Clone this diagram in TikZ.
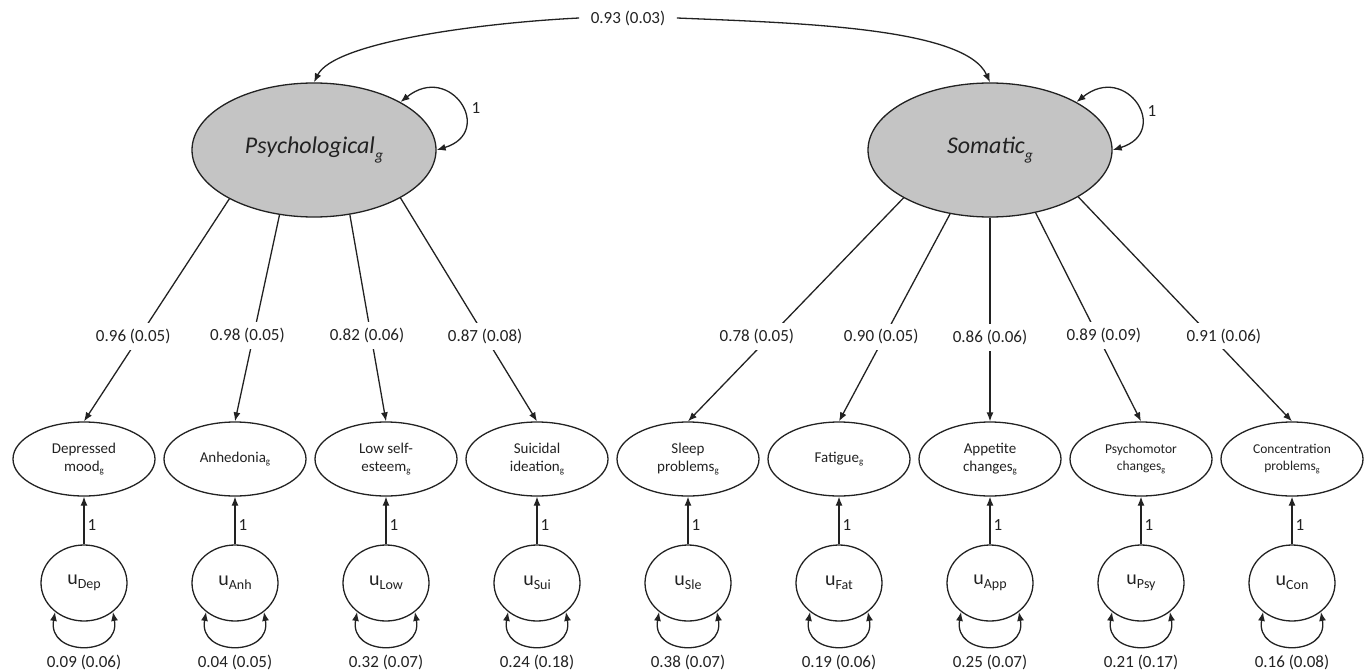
\documentclass[tikz,border=0pt]{standalone}
\usepackage{fontspec}
\setmainfont{Carlito}
\usepackage{graphicx}
\usetikzlibrary{shapes.geometric,arrows.meta}
\definecolor{latfill}{RGB}{196,196,196}
\definecolor{ink}{RGB}{34,34,34}
\newcommand{\sbs}[1]{\raisebox{-0.35ex}{\scalebox{0.6}{#1}}}
\newcommand{\lsbs}[1]{\raisebox{-0.55ex}{\scalebox{0.65}{#1}}}
\newcommand{\uvar}[1]{u\raisebox{-0.4ex}{\scalebox{0.7}{#1}}}

\begin{document}
\begin{tikzpicture}[x=1pt,y=-1pt,>={Latex[length=9pt,width=7pt]},line width=1.3pt,color=ink]
    \tikzstyle{latent}=[draw,ellipse,fill=latfill,minimum width=244pt,minimum height=134pt,inner sep=0pt,font=\fontsize{24}{28}\selectfont\itshape]
    \tikzstyle{ind}=[draw,ellipse,minimum width=142pt,minimum height=74pt,inner sep=0pt,align=center,font=\fontsize{15}{18}\selectfont]
    \tikzstyle{err}=[draw,ellipse,minimum width=86pt,minimum height=76pt,inner sep=0pt,font=\fontsize{20}{22}\selectfont]
    \tikzstyle{lbl}=[fill=white,inner sep=6pt,font=\fontsize{17}{20}\selectfont]
    \tikzstyle{num}=[inner sep=3pt,font=\fontsize{17}{20}\selectfont]
    \useasboundingbox (0,0) rectangle (1367,671);

    % latent factors
    \node[latent] at (314,150) (psy) {Psychological\lsbs{g}};
    \node[latent] at (990,150) (som) {Somatic\lsbs{g}};
    \node[num,inner xsep=11pt] at (628,18) (cov) {0.93 (0.03)};
    \node[num] at (476,108) (vpsy) {1};
    \node[num] at (1152,111) (vsom) {1};

    % indicators
    \node[ind] at (84,459)   (dep) {Depressed\\mood\sbs{g}};
    \node[ind] at (235,459)  (anh) {Anhedonia\sbs{g}};
    \node[ind] at (386,459)  (low) {Low self-\\esteem\sbs{g}};
    \node[ind] at (537,459)  (sui) {Suicidal\\ideation\sbs{g}};
    \node[ind] at (688,459)  (sle) {Sleep\\problems\sbs{g}};
    \node[ind] at (839,459)  (fat) {Fatigue\sbs{g}};
    \node[ind] at (990,459)  (app) {Appetite\\changes\sbs{g}};
    \node[ind,font=\fontsize{13.5}{17}\selectfont] at (1141,459) (pmc) {Psychomotor\\changes\sbs{g}};
    \node[ind,font=\fontsize{13.5}{17}\selectfont] at (1292,459) (con) {Concentration\\problems\sbs{g}};

    % residuals
    \node[err] at (84,583)   (udep) {\uvar{Dep}};
    \node[err] at (235,583)  (uanh) {\uvar{Anh}};
    \node[err] at (386,583)  (ulow) {\uvar{Low}};
    \node[err] at (537,583)  (usui) {\uvar{Sui}};
    \node[err] at (688,583)  (usle) {\uvar{Sle}};
    \node[err] at (839,583)  (ufat) {\uvar{Fat}};
    \node[err] at (990,583)  (uapp) {\uvar{App}};
    \node[err] at (1141,583) (upmc) {\uvar{Psy}};
    \node[err] at (1292,583) (ucon) {\uvar{Con}};

    % residual variances
    \node[num] at (84,662)   (vdep) {0.09 (0.06)};
    \node[num] at (235,662)  (vanh) {0.04 (0.05)};
    \node[num] at (386,662)  (vlow) {0.32 (0.07)};
    \node[num] at (537,662)  (vsui) {0.24 (0.18)};
    \node[num] at (688,662)  (vsle) {0.38 (0.07)};
    \node[num] at (839,662)  (vfat) {0.19 (0.06)};
    \node[num] at (990,662)  (vapp) {0.25 (0.07)};
    \node[num] at (1141,662) (vpmc) {0.21 (0.17)};
    \node[num] at (1292,662) (vcon) {0.16 (0.08)};

    % covariance and factor variances
    \draw[->] (cov.west) .. controls +(-100,5) and +(20,-40) .. (psy.north);
    \draw[->] (cov.east) .. controls +(120,5) and +(-25,-55) .. (som.north);
    \draw[<->] (psy.29) .. controls +(50,-40) and +(59,-18) .. (psy.east);
    \draw[<->] (som.29) .. controls +(50,-40) and +(59,-18) .. (som.east);

    % loadings
    \draw[->] (psy.-150.5) -- node[lbl,pos=0.62,xshift=-6pt] {0.96 (0.05)} (dep.north);
    \draw[->] (psy.-118.9) -- node[lbl,pos=0.585,xshift=-6pt] {0.98 (0.05)} (anh.north);
    \draw[->] (psy.-61.1) -- node[lbl,pos=0.585,xshift=-4pt] {0.82 (0.06)} (low.north);
    \draw[->] (psy.-29.5) -- node[lbl,pos=0.62] {0.87 (0.08)} (sui.north);
    \draw[->] (som.-151) -- node[lbl,pos=0.62,xshift=-13pt] {0.78 (0.05)} (sle.north);
    \draw[->] (som.-122) -- node[lbl,pos=0.593,xshift=-3pt] {0.90 (0.05)} (fat.north);
    \draw[->] (som.south) -- node[lbl,pos=0.59] {0.86 (0.06)} (app.north);
    \draw[->] (som.-54.4) -- node[lbl,pos=0.59,xshift=6pt] {0.89 (0.09)} (pmc.north);
    \draw[->] (som.-28.6) -- node[lbl,pos=0.62,xshift=13pt] {0.91 (0.06)} (con.north);

    % residual paths
    \draw[->] (udep) -- node[num,right,pos=0.4] {1} (dep);
    \draw[->] (uanh) -- node[num,right,pos=0.4] {1} (anh);
    \draw[->] (ulow) -- node[num,right,pos=0.4] {1} (low);
    \draw[->] (usui) -- node[num,right,pos=0.4] {1} (sui);
    \draw[->] (usle) -- node[num,right,pos=0.4] {1} (sle);
    \draw[->] (ufat) -- node[num,right,pos=0.4] {1} (fat);
    \draw[->] (uapp) -- node[num,right,pos=0.4] {1} (app);
    \draw[->] (upmc) -- node[num,right,pos=0.4] {1} (pmc);
    \draw[->] (ucon) -- node[num,right,pos=0.4] {1} (con);

    % residual variance loops
    \draw[<->] (udep.-135) .. controls +(-8,45) and +(8,45) .. (udep.-45);
    \draw[<->] (uanh.-135) .. controls +(-8,45) and +(8,45) .. (uanh.-45);
    \draw[<->] (ulow.-135) .. controls +(-8,45) and +(8,45) .. (ulow.-45);
    \draw[<->] (usui.-135) .. controls +(-8,45) and +(8,45) .. (usui.-45);
    \draw[<->] (usle.-135) .. controls +(-8,45) and +(8,45) .. (usle.-45);
    \draw[<->] (ufat.-135) .. controls +(-8,45) and +(8,45) .. (ufat.-45);
    \draw[<->] (uapp.-135) .. controls +(-8,45) and +(8,45) .. (uapp.-45);
    \draw[<->] (upmc.-135) .. controls +(-8,45) and +(8,45) .. (upmc.-45);
    \draw[<->] (ucon.-135) .. controls +(-8,45) and +(8,45) .. (ucon.-45);
\end{tikzpicture}
\end{document}
